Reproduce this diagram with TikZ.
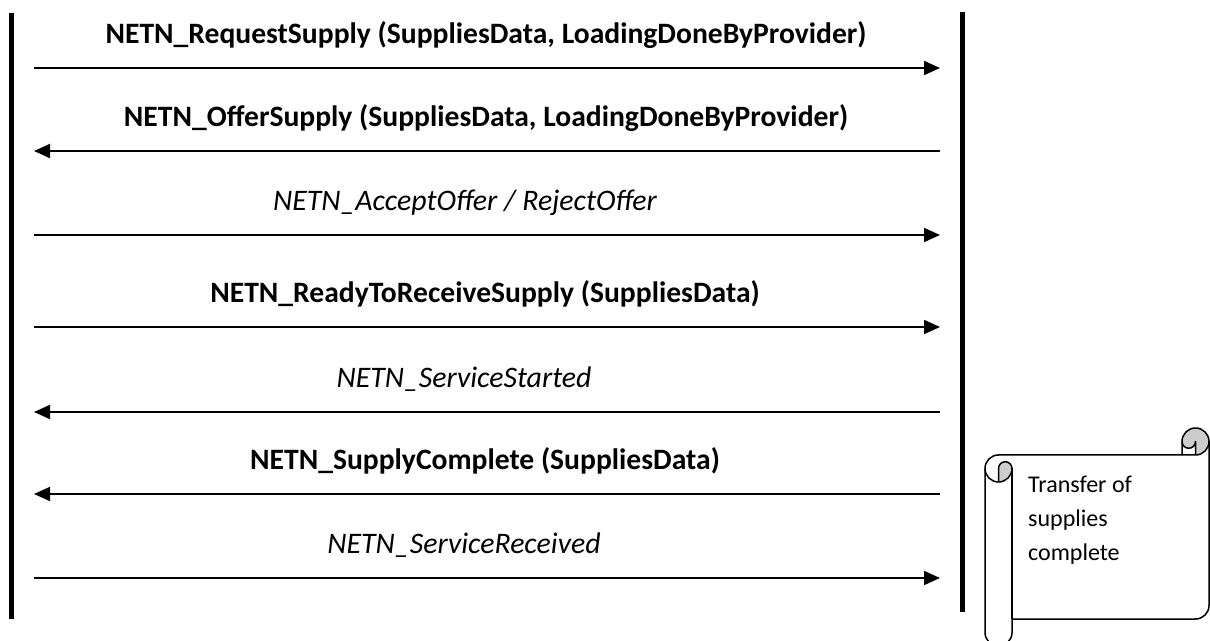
\documentclass[tikz,border=0pt]{standalone}
\usepackage{fontspec}
\setmainfont{Carlito}
\usetikzlibrary{arrows.meta}
\definecolor{curlgray}{RGB}{205,205,205}
\begin{document}
\begin{tikzpicture}[x=1pt,y=1pt,
  lifeline/.style={line width=5pt},
  msg/.style={line width=1.8pt,-{Triangle[length=16pt,width=14pt]}},
  boldlbl/.style={font=\fontsize{29.6}{34}\selectfont\bfseries,anchor=base,inner sep=0pt},
  itlbl/.style={font=\fontsize{29.8}{34}\selectfont\itshape,anchor=base,inner sep=0pt},
  scrollline/.style={line width=1.5pt,line join=round},
  curlfill/.style={fill=curlgray},
  notetext/.style={font=\fontsize{24}{34}\selectfont,align=left,anchor=north west,inner sep=0pt}]
\clip (0,0) rectangle (1210,640);
\fill[white] (0,0) rectangle (1210,640);
% lifelines
\coordinate (Ltop) at (11.5,627);
\coordinate (Lbot) at (11.5,21);
\coordinate (Rtop) at (962.5,628);
\coordinate (Rbot) at (962.5,28);
\draw[lifeline] (Ltop) -- (Lbot);
\draw[lifeline] (Rtop) -- (Rbot);
% message end points
\foreach \i/\yy in {1/572,2/489,3/405,4/313,5/228,6/146,7/62}{
  \coordinate (a\i L) at (34,\yy);
  \coordinate (a\i R) at (940,\yy);
}
\draw[msg] (a1L) -- (a1R);
\draw[msg] (a2R) -- (a2L);
\draw[msg] (a3L) -- (a3R);
\draw[msg] (a4L) -- (a4R);
\draw[msg] (a5R) -- (a5L);
\draw[msg] (a6R) -- (a6L);
\draw[msg] (a7L) -- (a7R);
% labels
\node[boldlbl] (t1) at (486,596) {NETN\_RequestSupply (SuppliesData, LoadingDoneByProvider)};
\node[boldlbl] (t2) at (486,513) {NETN\_OfferSupply (SuppliesData, LoadingDoneByProvider)};
\node[itlbl] (t3) at (465,429) {NETN\_AcceptOffer / RejectOffer};
\node[boldlbl] (t4) at (485,337) {NETN\_ReadyToReceiveSupply (SuppliesData)};
\node[itlbl] (t5) at (464,252) {NETN\_ServiceStarted};
\node[boldlbl] (t6) at (485,170) {NETN\_SupplyComplete (SuppliesData)};
\node[itlbl] (t7) at (464,86) {NETN\_ServiceReceived};
% scroll note
\fill[white] (985,171.5) arc[start angle=180,end angle=90,radius=13.5] -- (1182,185) -- (1182,198.5)
  arc[start angle=180,end angle=0,radius=13.5] -- (1209,34.5) arc[start angle=0,end angle=-90,radius=13.5]
  -- (1012,21) -- (1012,7.5) arc[start angle=0,end angle=-180,radius=13.5] -- cycle;
\fill[curlfill] (998.5,158) arc[start angle=-90,end angle=0,radius=13.5] arc[start angle=0,end angle=180,radius=6.75] -- cycle;
\fill[curlfill] (1195.5,185) arc[start angle=-90,end angle=180,radius=13.5] arc[start angle=180,end angle=360,radius=6.75] -- cycle;
\draw[scrollline] (985,171.5) arc[start angle=180,end angle=90,radius=13.5] -- (1182,185) -- (1182,198.5)
  arc[start angle=180,end angle=0,radius=13.5] -- (1209,34.5) arc[start angle=0,end angle=-90,radius=13.5]
  -- (1012,21) -- (1012,7.5) arc[start angle=0,end angle=-180,radius=13.5] -- cycle;
\draw[scrollline] (1182,185) -- (1195.5,185) arc[start angle=-90,end angle=0,radius=13.5];
\draw[scrollline] (1195.5,185) -- (1195.5,198.5) arc[start angle=0,end angle=-180,radius=6.75];
\draw[scrollline] (998.5,158) -- (998.5,171.5) arc[start angle=180,end angle=0,radius=6.75] arc[start angle=0,end angle=-180,radius=13.5];
\draw[scrollline] (1012,171.5) -- (1012,21);
\node[notetext] (note) at (1028,164) {Transfer of\\supplies\\complete};
\end{tikzpicture}
\end{document}
